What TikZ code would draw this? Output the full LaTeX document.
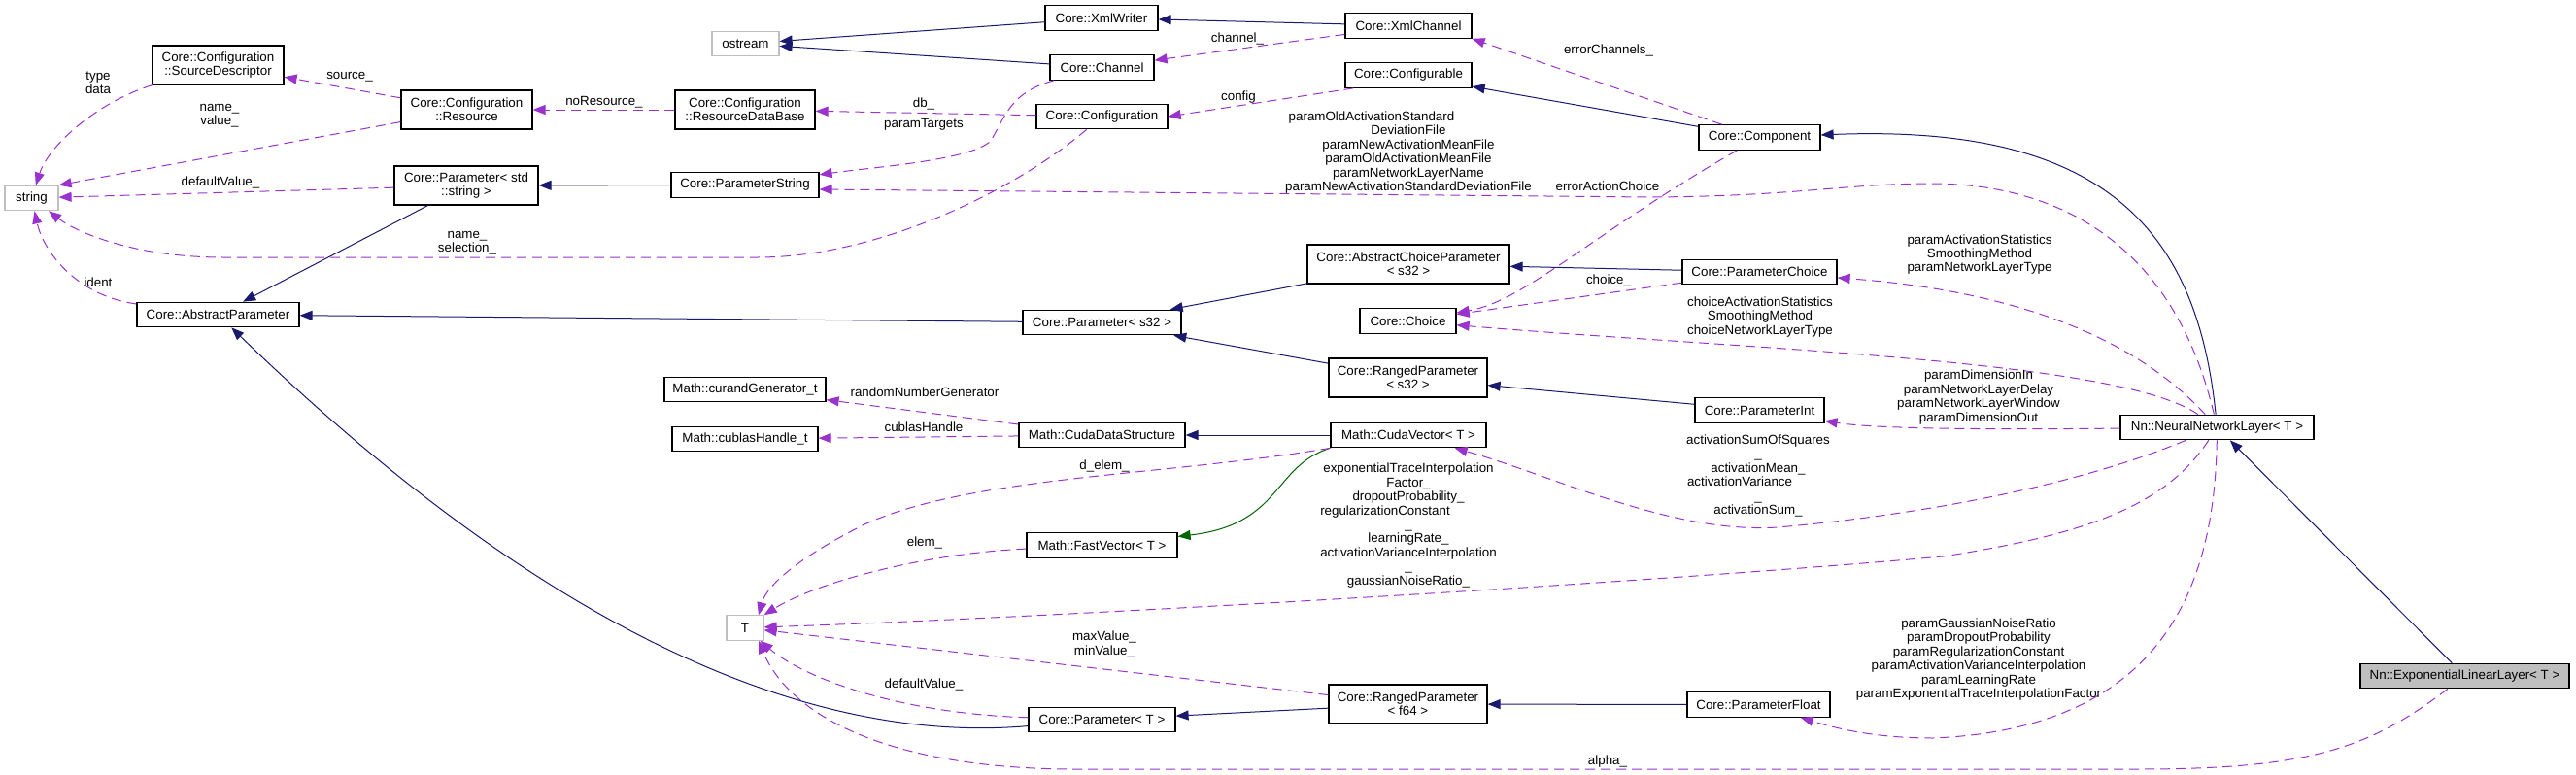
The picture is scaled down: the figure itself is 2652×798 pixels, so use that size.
\documentclass[tikz,border=0pt]{standalone}
\usepackage{fontspec}
\setmainfont{Liberation Sans}
\usetikzlibrary{arrows.meta}
\definecolor{navy}{HTML}{191970}
\definecolor{orchid}{HTML}{9A32CD}
\definecolor{dgreen}{HTML}{006400}
\definecolor{gray75}{HTML}{BFBFBF}
\newcommand\nf{\fontsize{6.67pt}{7.2pt}\selectfont}
\begin{document}
\begin{tikzpicture}[x=0.5pt,y=-0.5pt,
  box/.style={draw=black, line width=0.6pt, fill=white, inner sep=0pt, font=\nf, align=center},
  b1/.style={box, minimum height=12.75pt},
  b2/.style={box, minimum height=20pt},
  gbox/.style={b1, draw=gray75},
  lbl/.style={font=\nf, inner sep=0pt, align=center},
  inh/.style={draw=navy, line width=0.5pt, -{Triangle[length=6.5pt,width=5pt]}},
  prot/.style={draw=dgreen, line width=0.5pt, -{Triangle[length=6.5pt,width=5pt]}},
  use/.style={draw=orchid, line width=0.5pt, dash pattern=on 5pt off 3pt, -{Triangle[length=6.5pt,width=5pt]}}]
\fill[white] (0,0) rectangle (2652,798);
\useasboundingbox (0,0) rectangle (2652,798);

% nodes
\node[gbox, minimum width=27.5pt] (string) at (32.5,204) {string};
\node[gbox, minimum width=19pt] (t) at (767,646.5) {T};
\node[gbox, minimum width=34.5pt] (ostream) at (767.5,45) {ostream};
\node[b2, minimum width=67.5pt] (sd) at (224.5,67) {Core::Configuration\\::SourceDescriptor};
\node[b2, minimum width=67.5pt] (resource) at (480.5,113) {Core::Configuration\\::Resource};
\node[b2, minimum width=72pt] (rdb) at (767,113) {Core::Configuration\\::ResourceDataBase};
\node[b2, minimum width=74pt] (pstdstr) at (480,191) {Core::Parameter< std\\::string >};
\node[b1, minimum width=76pt] (pstring) at (767,190.5) {Core::ParameterString};
\node[b1, minimum width=83.5pt] (absparam) at (224.5,324) {Core::AbstractParameter};
\node[b1, minimum width=58pt] (xmlwriter) at (1134,18.5) {Core::XmlWriter};
\node[b1, minimum width=53.5pt] (channel) at (1134.5,69.5) {Core::Channel};
\node[b1, minimum width=67.5pt] (config) at (1134.5,120) {Core::Configuration};
\node[b1, minimum width=65pt] (xmlchannel) at (1450,26.5) {Core::XmlChannel};
\node[b1, minimum width=65pt] (configurable) at (1450,77.5) {Core::Configurable};
\node[b1, minimum width=62.5pt] (component) at (1811.5,141.5) {Core::Component};
\node[b2, minimum width=104pt] (acp) at (1450,272) {Core::AbstractChoiceParameter\\< s32 >};
\node[b1, minimum width=79.5pt] (pchoice) at (1811.5,280) {Core::ParameterChoice};
\node[b1, minimum width=49.5pt] (choice) at (1449.5,330.5) {Core::Choice};
\node[b1, minimum width=81.5pt] (ps32) at (1134.5,332) {Core::Parameter< s32 >};
\node[b2, minimum width=81.5pt] (rps32) at (1449.5,389) {Core::RangedParameter\\< s32 >};
\node[b1, minimum width=66.5pt] (pint) at (1811.5,422.5) {Core::ParameterInt};
\node[b1, minimum width=83pt] (curand) at (767,401) {Math::curandGenerator\_t};
\node[b1, minimum width=75pt] (cublas) at (767,452) {Math::cublasHandle\_t};
\node[b1, minimum width=85.5pt] (cds) at (1134.5,448) {Math::CudaDataStructure};
\node[b1, minimum width=80pt] (cudavec) at (1450,448) {Math::CudaVector< T >};
\node[b1, minimum width=99.5pt] (nnl) at (2282.5,440) {Nn::NeuralNetworkLayer< T >};
\node[b1, minimum width=77.5pt] (fastvec) at (1134.5,561.5) {Math::FastVector< T >};
\node[b1, minimum width=75.5pt] (paramT) at (1134.5,741) {Core::Parameter< T >};
\node[b2, minimum width=81.5pt] (rpf64) at (1449.5,725) {Core::RangedParameter\\< f64 >};
\node[b1, minimum width=73.5pt] (pfloat) at (1810.5,725.5) {Core::ParameterFloat};
\node[b1, minimum width=107.5pt, fill=gray75] (elu) at (2537.5,696) {Nn::ExponentialLinearLayer< T >};

% inheritance
\draw[inh] (xmlwriter) -- (ostream);
\draw[inh] (channel) -- (ostream);
\draw[inh] (xmlchannel) -- (xmlwriter);
\draw[inh] (component) -- (configurable);
\draw[inh] (nnl) .. controls (2262,240) and (2170,127) .. (component);
\draw[inh] (elu) -- (nnl);
\draw[inh] (pstring) -- (pstdstr);
\draw[inh] (pstdstr) -- (absparam);
\draw[inh] (ps32) -- (absparam);
\draw[inh] (acp) -- (ps32);
\draw[inh] (rps32) -- (ps32);
\draw[inh] (pchoice) -- (acp);
\draw[inh] (pint) -- (rps32);
\draw[inh] (cudavec) -- (cds);
\draw[inh] (paramT) .. controls (800,770) and (520,610) .. (absparam);
\draw[inh] (rpf64) -- (paramT);
\draw[inh] (pfloat) -- (rpf64);
\draw[prot] (cudavec.south west) .. controls (1310,480) and (1320,540) .. (fastvec);

% usage
\draw[use] (xmlchannel) -- (channel);
\draw[use] (component) -- (xmlchannel.south east);
\draw[use] ([xshift=4.5pt]configurable.south west) -- (config.east);
\draw[use] (config) -- (rdb);
\draw[use] (channel) .. controls (1040,95) and (1035,120) .. (1020,145) .. controls (1000,165) and (900,172) .. (pstring);
\draw[use] (config) .. controls (1040,200) and (900,265) .. (780,265) -- (230,265) .. controls (140,265) and (80,240) .. (string);
\draw[use] (rdb) -- (resource);
\draw[use] (resource) -- (sd);
\draw[use] (resource) -- (string.north east);
\draw[use] (sd) .. controls (100,105) and (50,150) .. (string);
\draw[use] (pstdstr) -- (string);
\draw[use] (absparam) .. controls (80,305) and (45,260) .. (string);
\draw[use] (component) .. controls (1640,240) and (1570,310) .. (choice);
\draw[use] (pchoice) -- (choice);
\draw[use] (nnl) .. controls (2240,260) and (2130,190) .. (1990,189) .. controls (1900,189) and (1850,202) .. (1700,203) -- ([yshift=-2.25pt]pstring.east);
\draw[use] (nnl) .. controls (2180,370) and (1800,360) .. (choice);
\draw[use] (nnl) .. controls (2200,350) and (2080,300) .. (pchoice);
\draw[use] (nnl) .. controls (2000,443) and (1920,440) .. (pint);
\draw[use] (nnl) .. controls (2150,495) and (2000,528) .. (1830,543) .. controls (1720,550) and (1600,490) .. (cudavec);
\draw[use] (nnl) .. controls (2230,520) and (2150,550) .. (2000,573) .. controls (1700,600) and (1100,635) .. (t);
\draw[use] (nnl) .. controls (2280,600) and (2230,750) .. (1990,760) .. controls (1930,760) and (1890,750) .. (pfloat);
\draw[use] (elu) .. controls (2440,770) and (2380,792) .. (2200,792) -- (1100,792) .. controls (900,790) and (810,730) .. ([xshift=7pt]t.south);
\draw[use] (cudavec.south west) .. controls (1200,490) and (1000,490) .. (890,540) .. controls (830,570) and (790,600) .. ([xshift=7pt]t.north);
\draw[use] (fastvec) .. controls (950,570) and (840,600) .. (t.north east);
\draw[use] (rpf64) -- (t);
\draw[use] (paramT) .. controls (930,735) and (830,700) .. (t);
\draw[use] (cds) -- (curand);
\draw[use] (cds) -- (cublas);

% labels
\node[lbl] (l1) at (101,85.5) {type\\data};
\node[lbl] (l2) at (360,79) {source\_};
\node[lbl] (l3) at (226,119.5) {name\_\\value\_};
\node[lbl] (l4) at (622,105) {noResource\_};
\node[lbl] (l5) at (227,188) {defaultValue\_};
\node[lbl] (l6) at (481,250) {name\_\\selection\_};
\node[lbl] (l7) at (101,291) {ident};
\node[lbl] (l8) at (1274,40) {channel\_};
\node[lbl] (l9) at (1275,100) {config};
\node[lbl] (l10) at (951,107) {db\_};
\node[lbl] (l11) at (951,128) {paramTargets};
\node[lbl] (l12) at (1656,52) {errorChannels\_};
\node[lbl] (l13) at (1450,157) {paramOldActivationStandard\rule{38pt}{0pt}\\DeviationFile\\paramNewActivationMeanFile\\paramOldActivationMeanFile\\paramNetworkLayerName\\paramNewActivationStandardDeviationFile};
\node[lbl] (l14) at (1655,192) {errorActionChoice};
\node[lbl] (l15) at (2038,262) {paramActivationStatistics\\SmoothingMethod\\paramNetworkLayerType};
\node[lbl] (l16) at (1656,289) {choice\_};
\node[lbl] (l17) at (1812,326.5) {choiceActivationStatistics\\SmoothingMethod\\choiceNetworkLayerType};
\node[lbl] (l18) at (952,404) {randomNumberGenerator};
\node[lbl] (l19) at (951,440) {cublasHandle};
\node[lbl] (l20) at (2037,409) {paramDimensionIn\\paramNetworkLayerDelay\\paramNetworkLayerWindow\\paramDimensionOut};
\node[lbl] (l21) at (1137,480) {d\_elem\_};
\node[lbl] (l22) at (1810,490) {activationSumOfSquares\\\_\\activationMean\_\\activationVariance\rule{19pt}{0pt}\\\_\\activationSum\_};
\node[lbl] (l23) at (1450,541) {exponentialTraceInterpolation\\Factor\_\\dropoutProbability\_\\regularizationConstant\rule{24pt}{0pt}\\\_\\learningRate\_\\activationVarianceInterpolation\\\_\\gaussianNoiseRatio\_};
\node[lbl] (l24) at (952,559) {elem\_};
\node[lbl] (l25) at (1137,663.5) {maxValue\_\\minValue\_};
\node[lbl] (l26) at (2037,679) {paramGaussianNoiseRatio\\paramDropoutProbability\\paramRegularizationConstant\\paramActivationVarianceInterpolation\\paramLearningRate\\paramExponentialTraceInterpolationFactor};
\node[lbl] (l27) at (951,705) {defaultValue\_};
\node[lbl] (l28) at (1655,784) {alpha\_};
\end{tikzpicture}
\end{document}
